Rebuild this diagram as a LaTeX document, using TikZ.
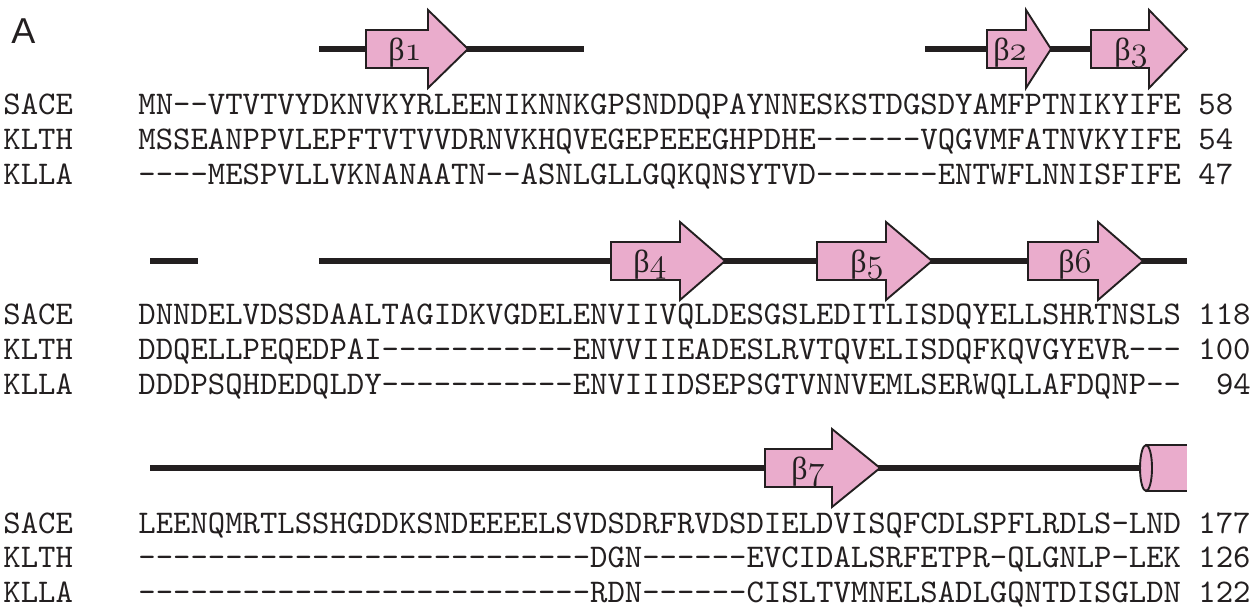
\documentclass[tikz,border=0pt]{standalone}
\usepackage{fontspec}
\newfontfamily\seqfont{lmmono10-regular.otf}[Ligatures=TeXOff]
\newfontfamily\panelfont{Liberation Sans}
\newfontfamily\greekfont{Liberation Serif}
\definecolor{strandpink}{RGB}{234,172,204}
\definecolor{inkgray}{RGB}{35,31,32}
\tikzset{
  seq/.style={anchor=base west,inner sep=0pt,text=inkgray,font=\seqfont\fontsize{16.55}{18}\selectfont},
  coil/.style={line width=2.6pt,draw=inkgray},
  strand/.style={fill=strandpink,draw=inkgray,line width=0.95pt,line join=miter},
  sslabel/.style={anchor=base,inner sep=0pt,text=inkgray,font=\fontsize{16}{18}\selectfont},
}
\newcommand{\bname}[1]{{\greekfont β}$\mathnormal{#1}$}

\begin{document}
\begin{tikzpicture}[x=0.5pt,y=-0.5pt]
\useasboundingbox (0,0) rectangle (1257,608);
\node[anchor=base west,inner sep=0pt,text=inkgray,font=\panelfont\fontsize{18}{20}\selectfont] (panel) at (11,44) {A};
% block 1
\draw[coil] (319,49) -- (584,49);
\draw[coil] (925,49) -- (1100,49);
\draw[strand] (366,30) -- (428,30) -- (428,10) -- (468,49) -- (428,88) -- (428,68) -- (366,68) -- cycle;
\draw[strand] (987,30) -- (1026,30) -- (1026,10) -- (1051,49) -- (1026,88) -- (1026,68) -- (987,68) -- cycle;
\draw[strand] (1091,30) -- (1149,30) -- (1149,10) -- (1187,49) -- (1149,88) -- (1149,68) -- (1091,68) -- cycle;
\node[sslabel] (b1) at (405,61) {\bname{1}};
\node[sslabel] (b2) at (1010,61) {\bname{2}};
\node[sslabel] (b3) at (1131,61) {\bname{3}};
\node[seq] (n1a) at (3,115) {SACE};
\node[seq] (n1b) at (3,150) {KLTH};
\node[seq] (n1c) at (3,185) {KLLA};
\node[seq] (s1a) at (138,115) {MN--VTVTVYDKNVKYRLEENIKNNKGPSNDDQPAYNNESKSTDGSDYAMFPTNIKYIFE};
\node[seq] (s1b) at (138,150) {MSSEANPPVLEPFTVTVVDRNVKHQVEGEPEEEGHPDHE------VQGVMFATNVKYIFE};
\node[seq] (s1c) at (138,185) {----MESPVLLVKNANAATN--ASNLGLLGQKQNSYTVD-------ENTWFLNNISFIFE};
\node[seq] (e1a) at (1198,115) {58};
\node[seq] (e1b) at (1198,150) {54};
\node[seq] (e1c) at (1198,185) {47};
% block 2
\draw[coil] (150,261) -- (198,261);
\draw[coil] (319,261) -- (1187,261);
\draw[strand] (611,242) -- (680,242) -- (680,222) -- (725,261) -- (680,300) -- (680,280) -- (611,280) -- cycle;
\draw[strand] (817,242) -- (886,242) -- (886,222) -- (932,261) -- (886,300) -- (886,280) -- (817,280) -- cycle;
\draw[strand] (1028,242) -- (1098,242) -- (1098,222) -- (1143,261) -- (1098,300) -- (1098,280) -- (1028,280) -- cycle;
\node[sslabel] (b4) at (650,273) {\bname{4}};
\node[sslabel] (b5) at (867,273) {\bname{5}};
\node[sslabel] (b6) at (1075,273) {\bname{6}};
\node[seq] (n2a) at (3,325) {SACE};
\node[seq] (n2b) at (3,360) {KLTH};
\node[seq] (n2c) at (3,395) {KLLA};
\node[seq] (s2a) at (138,325) {DNNDELVDSSDAALTAGIDKVGDELENVIIVQLDESGSLEDITLISDQYELLSHRTNSLS};
\node[seq] (s2b) at (138,360) {DDQELLPEQEDPAI-----------ENVVIIEADESLRVTQVELISDQFKQVGYEVR---};
\node[seq] (s2c) at (138,395) {DDDPSQHDEDQLDY-----------ENVIIIDSEPSGTVNNVEMLSERWQLLAFDQNP--};
\node[seq] (e2a) at (1198,325) {118};
\node[seq] (e2b) at (1198,360) {100};
\node[seq] (e2c) at (1215.6,395) {94};
% block 3
\draw[coil] (150,468) -- (1146,468);
\draw[strand] (765,449) -- (832,449) -- (832,429) -- (880,468) -- (832,507) -- (832,487) -- (765,487) -- cycle;
\node[sslabel] (b7) at (808,480) {\bname{7}};
\fill[strandpink] (1146,445) rectangle (1187,491);
\draw[inkgray,line width=0.95pt] (1146,445) -- (1187,445) (1146,491) -- (1187,491);
\draw[strand] (1146,468) ellipse [x radius=6,y radius=23];
\node[seq] (n3a) at (3,533) {SACE};
\node[seq] (n3b) at (3,567.5) {KLTH};
\node[seq] (n3c) at (3,602) {KLLA};
\node[seq] (s3a) at (138,533) {LEENQMRTLSSHGDDKSNDEEEELSVDSDRFRVDSDIELDVISQFCDLSPFLRDLS-LND};
\node[seq] (s3b) at (138,567.5) {--------------------------DGN------EVCIDALSRFETPR-QLGNLP-LEK};
\node[seq] (s3c) at (138,602) {--------------------------RDN------CISLTVMNELSADLGQNTDISGLDN};
\node[seq] (e3a) at (1198,533) {177};
\node[seq] (e3b) at (1198,567.5) {126};
\node[seq] (e3c) at (1198,602) {122};
\end{tikzpicture}
\end{document}
